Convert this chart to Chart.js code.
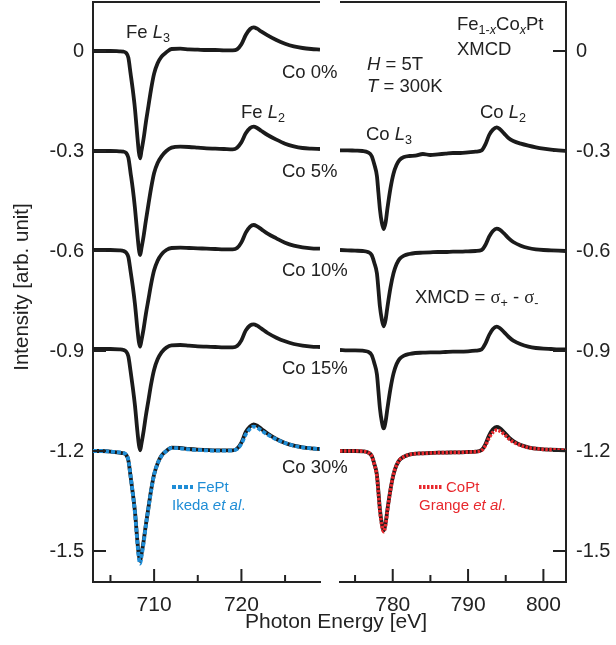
<!DOCTYPE html>
<html>
<head>
<meta charset="utf-8">
<script src="https://cdn.jsdelivr.net/npm/chart.js@4.4.0/dist/chart.umd.min.js"></script>
<style>
html, body { margin: 0; padding: 0; background: #fff; }
#wrap { position: relative; width: 616px; height: 645px; }
#wrap canvas { position: absolute; top: 0; }
#feChart { left: 0; }
#coChart { left: 330px; }
</style>
</head>
<body>
<div id="wrap">
  <canvas id="feChart" width="616" height="645" style="width:616px;height:645px"></canvas>
  <canvas id="coChart" width="286" height="645" style="width:286px;height:645px"></canvas>
</div>
<script>
const FONT = '"Liberation Sans", Arial, Helvetica, sans-serif';
const SERIF = '"Liberation Serif", "Times New Roman", serif';
const INK = '#222222';
const BLUE = '#1f8dd6';
const RED = '#e8282d';

// shared y axis
const yTicks = [0, -0.3, -0.6, -0.9, -1.2, -1.5];
const yMin = -1.593, yMax = 0.147;

// vertical offsets of the spectra (Co 0%, 5%, 10%, 15%, 30%)
const seriesLabels = ['Co 0%', 'Co 5%', 'Co 10%', 'Co 15%', 'Co 30%'];
const seriesOffsets = [0, -0.3, -0.6, -0.9, -1.2];

// ---- Fe L edge (left panel) ----
const feTicks = [710, 720];
const feMinorTicks = [705, 715, 725];
const feEnergy = [703, 704, 705, 706, 706.5, 706.8, 707.05, 707.3, 707.55, 707.8, 708.1, 708.25, 708.4, 708.55, 708.8, 709.05, 709.35, 709.65, 710.0, 710.4, 710.85, 711.4, 712, 713, 714, 715, 716, 717, 718, 719, 719.5, 720, 720.5, 721, 721.4, 721.8, 722.3, 723, 724, 725, 726, 727, 728, 729];
const feCo0  = [0, 0, 0, -0.001, -0.002, -0.006, -0.02, -0.067, -0.115, -0.172, -0.262, -0.303, -0.322, -0.3, -0.262, -0.215, -0.165, -0.115, -0.068, -0.037, -0.017, -0.004, 0.006, 0.007, 0.005, 0.004, 0.003, 0.003, 0.002, 0.002, 0.005, 0.02, 0.048, 0.066, 0.071, 0.067, 0.058, 0.047, 0.033, 0.022, 0.014, 0.009, 0.006, 0.004];
const feCo5  = [0, 0, 0, -0.001, -0.002, -0.006, -0.02, -0.065, -0.112, -0.17, -0.255, -0.293, -0.312, -0.292, -0.255, -0.21, -0.16, -0.112, -0.066, -0.036, -0.016, 0.0, 0.01, 0.013, 0.012, 0.01, 0.008, 0.007, 0.006, 0.005, 0.01, 0.026, 0.053, 0.069, 0.073, 0.069, 0.06, 0.048, 0.034, 0.022, 0.014, 0.009, 0.007, 0.006];
const feCo10 = [0.003, 0.003, 0.003, 0.002, 0.0, -0.005, -0.018, -0.06, -0.105, -0.158, -0.238, -0.272, -0.287, -0.268, -0.233, -0.19, -0.145, -0.1, -0.058, -0.029, -0.01, 0.003, 0.009, 0.01, 0.009, 0.008, 0.007, 0.006, 0.005, 0.005, 0.009, 0.026, 0.055, 0.073, 0.078, 0.074, 0.065, 0.052, 0.038, 0.025, 0.016, 0.011, 0.008, 0.007];
const feCo15 = [0.006, 0.006, 0.006, 0.005, 0.003, -0.002, -0.016, -0.06, -0.108, -0.162, -0.245, -0.28, -0.298, -0.278, -0.24, -0.195, -0.148, -0.1, -0.056, -0.025, -0.004, 0.01, 0.017, 0.018, 0.016, 0.014, 0.013, 0.012, 0.011, 0.011, 0.015, 0.032, 0.062, 0.077, 0.08, 0.076, 0.067, 0.054, 0.04, 0.029, 0.021, 0.016, 0.013, 0.012];
const feCo30 = [0.0, 0.0, -0.002, -0.005, -0.007, -0.012, -0.028, -0.075, -0.125, -0.18, -0.275, -0.313, -0.33, -0.31, -0.27, -0.222, -0.17, -0.118, -0.07, -0.037, -0.014, 0.0, 0.01, 0.009, 0.006, 0.004, 0.003, 0.002, 0.002, 0.002, 0.007, 0.025, 0.057, 0.074, 0.08, 0.076, 0.066, 0.052, 0.036, 0.024, 0.016, 0.011, 0.008, 0.006];
// FePt reference (Ikeda et al.), plotted at the Co 30% offset
const fePtRef = [0.0, 0.0, -0.002, -0.004, -0.006, -0.011, -0.027, -0.074, -0.126, -0.183, -0.28, -0.32, -0.338, -0.317, -0.275, -0.225, -0.172, -0.12, -0.071, -0.038, -0.015, 0.0, 0.009, 0.008, 0.005, 0.003, 0.002, 0.001, 0.001, 0.002, 0.006, 0.022, 0.05, 0.067, 0.073, 0.07, 0.061, 0.049, 0.035, 0.024, 0.016, 0.011, 0.008, 0.006];

// ---- Co L edge (right panel) ----
const coTicks = [780, 790, 800];
const coMinorTicks = [775, 785, 795];
const coEnergy = [773, 774, 775, 776, 776.7, 777.2, 777.55, 777.9, 778.1, 778.3, 778.55, 778.8, 779.05, 779.3, 779.7, 780.1, 780.5, 780.9, 781.5, 782.2, 783, 784, 785, 786, 787, 788, 789, 790, 791, 791.8, 792.3, 792.8, 793.3, 793.8, 794.2, 794.8, 795.4, 796, 797, 798, 799, 800, 801, 802, 803];
const coCo5  = [0.002, 0.002, 0.001, 0.0, -0.004, -0.015, -0.04, -0.075, -0.125, -0.175, -0.215, -0.234, -0.215, -0.172, -0.112, -0.068, -0.042, -0.027, -0.018, -0.015, -0.014, -0.009, -0.012, -0.01, -0.008, -0.006, -0.006, -0.004, -0.002, 0.002, 0.02, 0.048, 0.064, 0.071, 0.066, 0.052, 0.038, 0.03, 0.022, 0.016, 0.011, 0.007, 0.004, 0.002, 0.0];
const coCo10 = [0.003, 0.002, 0.001, 0.0, -0.003, -0.012, -0.035, -0.067, -0.115, -0.167, -0.205, -0.226, -0.207, -0.167, -0.11, -0.067, -0.04, -0.024, -0.014, -0.009, -0.006, -0.005, -0.004, -0.003, -0.003, -0.002, -0.002, -0.001, 0.0, 0.003, 0.018, 0.043, 0.06, 0.067, 0.064, 0.052, 0.038, 0.027, 0.016, 0.009, 0.005, 0.003, 0.002, 0.001, 0.0];
const coCo15 = [0.003, 0.002, 0.002, 0.001, -0.002, -0.012, -0.036, -0.07, -0.12, -0.172, -0.212, -0.232, -0.212, -0.172, -0.113, -0.068, -0.04, -0.024, -0.014, -0.009, -0.006, -0.005, -0.004, -0.004, -0.003, -0.002, -0.002, -0.001, 0.001, 0.005, 0.022, 0.048, 0.066, 0.073, 0.069, 0.056, 0.042, 0.031, 0.02, 0.013, 0.009, 0.007, 0.006, 0.005, 0.005];
const coCo30 = [0.0, 0.0, 0.0, -0.001, -0.004, -0.014, -0.038, -0.072, -0.122, -0.175, -0.217, -0.238, -0.217, -0.175, -0.116, -0.07, -0.043, -0.027, -0.017, -0.011, -0.008, -0.007, -0.006, -0.005, -0.005, -0.004, -0.004, -0.003, -0.002, 0.003, 0.02, 0.047, 0.065, 0.072, 0.069, 0.056, 0.041, 0.03, 0.018, 0.011, 0.007, 0.005, 0.004, 0.003, 0.002];
// CoPt reference (Grange et al.), plotted at the Co 30% offset
const coPtRef = [0.0, 0.0, 0.0, -0.001, -0.004, -0.015, -0.04, -0.075, -0.126, -0.18, -0.222, -0.242, -0.222, -0.178, -0.117, -0.07, -0.043, -0.027, -0.017, -0.011, -0.008, -0.007, -0.006, -0.005, -0.005, -0.004, -0.004, -0.003, -0.002, 0.002, 0.016, 0.04, 0.056, 0.063, 0.06, 0.05, 0.037, 0.027, 0.017, 0.01, 0.007, 0.005, 0.004, 0.003, 0.002];

function toPoints(xs, ys, off) {
    return xs.map((e, i) => ({ x: e, y: ys[i] + off }));
}

function blackLine(label, xs, ys, off) {
    return {
        label: label,
        data: toPoints(xs, ys, off),
        borderColor: '#1b1b1b',
        borderWidth: 3.8,
        borderJoinStyle: 'round',
        pointRadius: 0,
        cubicInterpolationMode: 'monotone',
        order: 1
    };
}

function dottedLine(label, xs, ys, off, color, dash, width) {
    return {
        label: label,
        data: toPoints(xs, ys, off),
        borderColor: color,
        borderWidth: width,
        borderDash: dash,
        pointRadius: 0,
        cubicInterpolationMode: 'monotone',
        order: 0
    };
}

// draws the axis frame pieces Chart.js does not: top line and inward ticks
const framePlugin = {
    id: 'frame',
    afterDraw(chart, args, opts) {
        const { ctx, chartArea: a, scales: { x, y } } = chart;
        ctx.save();
        ctx.strokeStyle = INK;
        ctx.lineWidth = 2;
        ctx.beginPath();
        ctx.moveTo(a.left, a.top);
        ctx.lineTo(a.right, a.top);
        opts.major.forEach(v => {
            const px = x.getPixelForValue(v);
            ctx.moveTo(px, a.bottom);
            ctx.lineTo(px, a.bottom - 13);
        });
        opts.minor.forEach(v => {
            const px = x.getPixelForValue(v);
            ctx.moveTo(px, a.bottom);
            ctx.lineTo(px, a.bottom - 7);
        });
        const ax = opts.side === 'left' ? a.left : a.right;
        const dir = opts.side === 'left' ? 1 : -1;
        yTicks.forEach(v => {
            const py = y.getPixelForValue(v);
            ctx.moveTo(ax, py);
            ctx.lineTo(ax + dir * 13, py);
        });
        ctx.stroke();
        ctx.restore();
    }
};

// text made of pieces: italic, subscript, serif
function drawRich(ctx, x, y, parts, size, color) {
    let cx = x;
    ctx.fillStyle = color;
    ctx.textAlign = 'left';
    ctx.textBaseline = 'alphabetic';
    parts.forEach(p => {
        const s = p.sub ? size * 0.68 : size;
        const fam = p.serif ? SERIF : FONT;
        ctx.font = (p.i ? 'italic ' : '') + s + 'px ' + fam;
        const dy = p.sub ? size * 0.24 : 0;
        ctx.fillText(p.t, cx, y + dy);
        cx += ctx.measureText(p.t).width;
    });
}

const labelPlugin = {
    id: 'labels',
    afterDraw(chart) {
        const ctx = chart.ctx;
        ctx.save();
        const big = 18.5;
        drawRich(ctx, 126, 38, [{ t: 'Fe ' }, { t: 'L', i: 1 }, { t: '3', sub: 1 }], big, INK);
        drawRich(ctx, 241, 118, [{ t: 'Fe ' }, { t: 'L', i: 1 }, { t: '2', sub: 1 }], big, INK);
        const labelY = [78, 177, 276, 374, 473];
        seriesLabels.forEach((s, i) => drawRich(ctx, 282, labelY[i], [{ t: s }], big, INK));
        drawRich(ctx, 367, 70, [{ t: 'H', i: 1 }, { t: ' = 5T' }], big, INK);
        drawRich(ctx, 367, 92, [{ t: 'T', i: 1 }, { t: ' = 300K' }], big, INK);
        drawRich(ctx, 457, 30, [{ t: 'Fe' }, { t: '1-', sub: 1 }, { t: 'x', sub: 1, i: 1 }, { t: 'Co' }, { t: 'x', sub: 1, i: 1 }, { t: 'Pt' }], big, INK);
        drawRich(ctx, 457, 55, [{ t: 'XMCD' }], big, INK);
        drawRich(ctx, 366, 140, [{ t: 'Co ' }, { t: 'L', i: 1 }, { t: '3', sub: 1 }], big, INK);
        drawRich(ctx, 480, 118, [{ t: 'Co ' }, { t: 'L', i: 1 }, { t: '2', sub: 1 }], big, INK);
        drawRich(ctx, 415, 303, [{ t: 'XMCD = ' }, { t: '\u03c3', serif: 1 }, { t: '+', sub: 1 }, { t: ' - ' }, { t: '\u03c3', serif: 1 }, { t: '-', sub: 1 }], big, INK);

        // reference legends
        ctx.lineWidth = 4;
        ctx.strokeStyle = BLUE;
        ctx.setLineDash([4, 2]);
        ctx.beginPath(); ctx.moveTo(172, 487); ctx.lineTo(193, 487); ctx.stroke();
        ctx.strokeStyle = RED;
        ctx.setLineDash([2.5, 1.5]);
        ctx.beginPath(); ctx.moveTo(419, 487); ctx.lineTo(443, 487); ctx.stroke();
        ctx.setLineDash([]);
        drawRich(ctx, 197, 492, [{ t: 'FePt' }], 15, BLUE);
        drawRich(ctx, 172, 510, [{ t: 'Ikeda ' }, { t: 'et al', i: 1 }, { t: '.' }], 15, BLUE);
        drawRich(ctx, 446, 492, [{ t: 'CoPt' }], 15, RED);
        drawRich(ctx, 419, 510, [{ t: 'Grange ' }, { t: 'et al', i: 1 }, { t: '.' }], 15, RED);

        // axis titles
        ctx.fillStyle = INK;
        ctx.font = '21px ' + FONT;
        ctx.textAlign = 'center';
        ctx.textBaseline = 'alphabetic';
        ctx.fillText('Photon Energy [eV]', 336, 628);
        ctx.translate(28, 287);
        ctx.rotate(-Math.PI / 2);
        ctx.font = '20.5px ' + FONT;
        ctx.fillText('Intensity [arb. unit]', 0, 0);
        ctx.restore();
    }
};

function yLabel(v) {
    return v === 0 ? '0' : v.toFixed(1);
}

function xScale(min, max, ticks) {
    return {
        type: 'linear',
        position: 'bottom',
        min: min,
        max: max,
        afterBuildTicks: s => { s.ticks = ticks.map(v => ({ value: v })); },
        afterFit: s => { s.height = 63; s.paddingLeft = 0; s.paddingRight = 0; },
        grid: { display: false, drawTicks: false },
        border: { display: true, color: INK, width: 2 },
        ticks: { font: { family: FONT, size: 21 }, color: INK, padding: 11, maxRotation: 0, autoSkip: false, callback: v => String(v) }
    };
}

function yScale(side, width, pad) {
    return {
        type: 'linear',
        position: side,
        min: yMin,
        max: yMax,
        afterBuildTicks: s => { s.ticks = yTicks.map(v => ({ value: v })); },
        afterFit: s => { s.width = width; s.paddingTop = 0; s.paddingBottom = 0; },
        grid: { display: false, drawTicks: false },
        border: { display: true, color: INK, width: 2 },
        ticks: { font: { family: FONT, size: 20 }, color: INK, padding: pad, autoSkip: false, callback: v => yLabel(v) }
    };
}

const feSets = [feCo0, feCo5, feCo10, feCo15, feCo30].map((ys, i) => blackLine(seriesLabels[i], feEnergy, ys, seriesOffsets[i]));
feSets.push(dottedLine('FePt', feEnergy, fePtRef, seriesOffsets[4], BLUE, [4, 2], 3.8));

new Chart(document.getElementById('feChart'), {
    type: 'line',
    data: { datasets: feSets },
    options: {
        responsive: false,
        animation: false,
        devicePixelRatio: 1,
        layout: { padding: { top: 2, right: 616 - 320, left: 0, bottom: 0 } },
        plugins: {
            legend: { display: false },
            tooltip: { enabled: false },
            frame: { side: 'left', major: feTicks, minor: feMinorTicks }
        },
        scales: { x: xScale(703, 729, feTicks), y: yScale('left', 93, 9) }
    },
    plugins: [framePlugin, labelPlugin]
});

const coSets = [coCo5, coCo10, coCo15, coCo30].map((ys, i) => blackLine(seriesLabels[i + 1], coEnergy, ys, seriesOffsets[i + 1]));
coSets.push(dottedLine('CoPt', coEnergy, coPtRef, seriesOffsets[4], RED, [2.5, 1.5], 3.6));

new Chart(document.getElementById('coChart'), {
    type: 'line',
    data: { datasets: coSets },
    options: {
        responsive: false,
        animation: false,
        devicePixelRatio: 1,
        layout: { padding: { top: 2, left: 10, right: 0, bottom: 0 } },
        plugins: {
            legend: { display: false },
            tooltip: { enabled: false },
            frame: { side: 'right', major: coTicks, minor: coMinorTicks }
        },
        scales: { x: xScale(773, 803, coTicks), y: yScale('right', 50, 10) }
    },
    plugins: [framePlugin]
});
</script>
</body>
</html>
